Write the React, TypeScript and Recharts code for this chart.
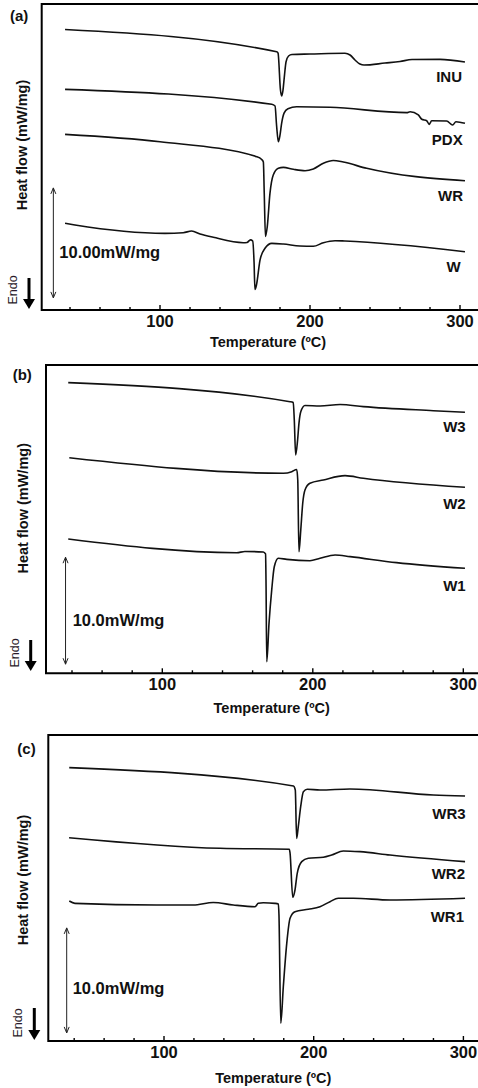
import { LineChart, Line, XAxis, YAxis, ReferenceArea, ReferenceLine } from 'recharts';

// DSC traces, [temperature (°C), heat flow (mW/mg, stacked offset)]
const INU = [[36.7, 25.5], [177.8, 23.48], [178.7, 23.36], [180.3, 20.0], [181.1, 19.45], [182, 20.0], [183, 21.36], [184, 22.55], [185.7, 23.09], [188, 23.23], [200, 23.27], [223.3, 23.34], [226.7, 23.18], [230, 22.73], [233.3, 22.36], [236, 22.27], [250, 22.45], [260, 22.59], [268, 22.77], [286.7, 22.79], [303.3, 22.55]];
const PDX = [[36.7, 20.06], [174.5, 18.7], [176.7, 18.55], [177.7, 16.8], [178.9, 15.3], [180, 15.9], [181, 16.9], [182.7, 17.9], [185.3, 18.3], [191.1, 18.48], [213.3, 18.43], [264.5, 17.94], [266.7, 18.03], [272.2, 17.73], [274.5, 17.34], [277.8, 17.21], [279.5, 16.88], [281.1, 17.21], [291.1, 17.18], [295.1, 16.82], [297.3, 17.12], [303.3, 16.97]];
const WR = [[36.7, 15.97], [100, 15.3], [164.5, 13.94], [167.8, 13.68], [168.9, 13.45], [169.5, 10.6], [170.3, 6.68], [171.5, 7.57], [173.3, 10.6], [175.5, 12.27], [178.9, 12.88], [182.2, 12.97], [188.9, 12.79], [196.7, 12.66], [202.2, 12.82], [208.9, 13.34], [215.5, 13.59], [222.2, 13.45], [237.8, 12.88], [303.3, 11.75]];
const W = [[36.7, 7.88], [43.3, 7.73], [103.3, 6.97], [115.5, 7.03], [121.1, 7.18], [126.7, 6.91], [135.5, 6.61], [155.5, 6.12], [158, 6.14], [160.3, 6.38], [161.8, 6.27], [162.7, 4.36], [163.3, 1.86], [164.3, 2.27], [166.7, 4.55], [170, 5.61], [174.5, 6.06], [182.2, 6.0], [193.3, 5.82], [202.2, 5.79], [208.9, 6.12], [216.7, 6.3], [223.3, 6.27], [303.3, 5.3]];

const W3 = [[37.5, 27.16], [184.9, 25.38], [187, 25.3], [187.7, 23.67], [188.6, 20.4], [189.9, 21.8], [190.8, 23.36], [192, 24.45], [194.8, 25.03], [204.8, 24.98], [218.1, 25.12], [233.6, 24.92], [280.1, 24.54], [301.1, 24.39]];
const W2 = [[38.2, 20.15], [180.4, 18.69], [186, 18.84], [189.3, 19.05], [190, 18.07], [190.8, 11.36], [192, 13.39], [193.3, 15.89], [194.8, 17.13], [198.1, 17.76], [207, 18.07], [221.4, 18.47], [233.6, 18.22], [301.1, 17.38]];
const W1 = [[37.5, 12.55], [149.4, 11.27], [154.9, 11.38], [167.1, 11.34], [168.6, 11.15], [168.9, 8.72], [169.4, 1.08], [170.9, 4.67], [172.7, 7.79], [174.4, 9.96], [177.1, 10.75], [182.7, 10.65], [198.1, 10.52], [204.8, 10.75], [214.8, 11.06], [224.8, 10.9], [255.7, 10.34], [301.1, 9.81]];

const WR3 = [[36.7, 26.03], [186.5, 24.29], [187.7, 23.9], [188.6, 19.3], [189.7, 20.41], [191.3, 22.31], [193.1, 23.74], [195.7, 23.97], [204.2, 23.9], [224.2, 24.0], [279.9, 23.43], [301.1, 23.33]];
const WR2 = [[36.6, 19.36], [137.4, 18.35], [183.7, 18.26], [184.2, 17.9], [186, 13.69], [187.5, 14.38], [189, 15.97], [192, 17.08], [196.4, 17.4], [206.4, 17.5], [212, 17.71], [219.8, 18.1], [230.9, 18.03], [251, 17.71], [301.1, 17.08]];
const WR1 = [[36.7, 13.33], [40.5, 13.11], [95.1, 12.95], [119.6, 12.95], [132.9, 13.19], [146.3, 12.95], [160.8, 12.79], [163, 13.11], [166.3, 13.17], [174.1, 13.11], [176.4, 13.05], [176.8, 12.0], [178, 1.69], [179.7, 5.17], [182, 9.3], [184.2, 11.69], [187.5, 12.31], [196.4, 12.54], [204.2, 12.79], [210.9, 13.27], [216.4, 13.59], [226.5, 13.59], [251, 13.43], [301.1, 13.59]];

const xTicks = [40, 60, 80, 100, 120, 140, 160, 180, 200, 220, 240, 260, 280, 300];
const scaleBars = [
  { t: 28.9, from: 1.1, to: 11.1, label: '10.00mW/mg' },
  { t: 35.7, from: 0.85, to: 10.85, label: '10.0mW/mg' },
  { t: 35, from: 0.77, to: 10.77, label: '10.0mW/mg' },
];

const FONT = '"Liberation Sans", Arial, Helvetica, sans-serif';
const toPts = (arr: number[][]) => arr.map(([t, v]) => ({ t, v }));

const panels = [
  {
    tag: '(a)', top: 4, height: 306, left: 41.7, tMin: 21.13, tMax: 316, k: 1.5, yMax: 27.82,
    series: [INU, PDX, WR, W], bar: scaleBars[0],
  },
  {
    tag: '(b)', top: 365, height: 308.3, left: 46, tMin: 22.72, tMax: 316, k: 1.505, yMax: 28.81,
    series: [W3, W2, W1], bar: scaleBars[1],
  },
  {
    tag: '(c)', top: 735, height: 306, left: 48.3, tMin: 22.71, tMax: 316, k: 1.497, yMax: 29.14,
    series: [WR3, WR2, WR1], bar: scaleBars[2],
  },
];

const CHART_W = 500;

const Tick = (props: any) => {
  const { x, y, payload } = props;
  const major = payload.value % 100 === 0;
  return (
    <g>
      <line x1={x} x2={x} y1={y} y2={y - (major ? 5 : 3)} stroke="#000" strokeWidth={1.4} />
      {major && (
        <text x={x} y={y + 17} textAnchor="middle" fontFamily={FONT} fontWeight="bold" fontSize={16.5} fill="#111">
          {payload.value}
        </text>
      )}
    </g>
  );
};

const ScaleBar = (p: any) => {
  const { x1, y1, y2 } = p;
  const top = Math.min(y1, y2);
  const bot = Math.max(y1, y2);
  return (
    <g stroke="#222" strokeWidth={1} fill="none">
      <line x1={x1} y1={top} x2={x1} y2={bot} />
      <polyline points={`${x1 - 2.5},${top + 6} ${x1},${top} ${x1 + 2.5},${top + 6}`} />
      <polyline points={`${x1 - 2.5},${bot - 6} ${x1},${bot} ${x1 + 2.5},${bot - 6}`} />
    </g>
  );
};

// text placed on the page (pixel layout)
const curveLabels = [
  { text: 'INU', x: 462, y: 76.7 }, { text: 'PDX', x: 462.7, y: 139.3 },
  { text: 'WR', x: 463, y: 195 }, { text: 'W', x: 460.7, y: 266.7 },
  { text: 'W3', x: 465.7, y: 426.7 }, { text: 'W2', x: 465.7, y: 503.3 }, { text: 'W1', x: 465.7, y: 585 },
  { text: 'WR3', x: 465.7, y: 813.3 }, { text: 'WR2', x: 465, y: 873.3 }, { text: 'WR1', x: 464, y: 916.7 },
];
const panelText = [
  { tagX: 10, tagY: 15, hfX: 22, hfY: 145, endoX: 13.3, endoY: 290, arrowX: 29, arrowTop: 278, arrowBot: 309, barX: 59.3, barY: 252, tX: 268, tY: 341.7 },
  { tagX: 12.7, tagY: 374, hfX: 23.3, hfY: 508.3, endoX: 15, endoY: 653, arrowX: 30.7, arrowTop: 640, arrowBot: 671, barX: 72.7, barY: 620, tX: 271.7, tY: 708.3 },
  { tagX: 17.3, tagY: 748, hfX: 23, hfY: 880, endoX: 18.3, endoY: 1023, arrowX: 34.3, arrowTop: 1008, arrowBot: 1040, barX: 72.7, barY: 988.3, tX: 273.3, tY: 1077.7 },
];

export default function App() {
  return (
    <div style={{ position: 'fixed', left: 0, top: 0, width: 478, height: 1088, overflow: 'hidden', background: '#fff' }}>
      {panels.map((p, i) => {
        const right = p.left + (p.tMax - p.tMin) * p.k;
        return (
          <div key={i} style={{ position: 'absolute', left: 0, top: p.top - 10 }}>
            <LineChart
              width={CHART_W}
              height={p.height + 50}
              margin={{ top: 10, right: CHART_W - right, bottom: 0, left: p.left }}
            >
              <XAxis
                type="number"
                dataKey="t"
                domain={[p.tMin, p.tMax]}
                allowDataOverflow
                ticks={xTicks}
                interval={0}
                tick={<Tick />}
                tickSize={0}
                tickMargin={0}
                tickLine={false}
                axisLine={false}
                height={40}
              />
              <YAxis type="number" dataKey="v" domain={[0, p.yMax]} allowDataOverflow hide />
              <ReferenceArea x1={p.tMin} x2={p.tMax} y1={0} y2={p.yMax} fill="none" fillOpacity={0} stroke="#000" strokeWidth={2} />
              <ReferenceLine
                segment={[{ x: p.bar.t, y: p.bar.from }, { x: p.bar.t, y: p.bar.to }]}
                shape={<ScaleBar />}
              />
              {p.series.map((s, j) => (
                <Line
                  key={j}
                  data={toPts(s)}
                  dataKey="v"
                  type="monotone"
                  stroke="#111"
                  strokeWidth={1.6}
                  dot={false}
                  isAnimationActive={false}
                />
              ))}
            </LineChart>
          </div>
        );
      })}
      <svg width={478} height={1088} style={{ position: 'absolute', left: 0, top: 0, pointerEvents: 'none' }}>
        <g fontFamily={FONT} fill="#111">
          {panelText.map((t, i) => (
            <g key={i}>
              <text x={t.tagX} y={t.tagY} dominantBaseline="central" fontWeight="bold" fontSize={15}>{panels[i].tag}</text>
              <text x={t.hfX} y={t.hfY} dominantBaseline="central" textAnchor="middle" fontWeight="bold" fontSize={14.5}
                transform={`rotate(-90 ${t.hfX} ${t.hfY})`}>Heat flow (mW/mg)</text>
              <text x={t.endoX} y={t.endoY} dominantBaseline="central" textAnchor="middle" fontSize={12.5} fill="#2a1a2a"
                transform={`rotate(-90 ${t.endoX} ${t.endoY})`}>Endo</text>
              <line x1={t.arrowX} x2={t.arrowX} y1={t.arrowTop} y2={t.arrowBot - 8} stroke="#000" strokeWidth={3} />
              <polygon points={`${t.arrowX - 6},${t.arrowBot - 10} ${t.arrowX + 6},${t.arrowBot - 10} ${t.arrowX},${t.arrowBot}`} fill="#000" />
              <text x={t.barX} y={t.barY} dominantBaseline="central" fontWeight="bold" fontSize={16.5}>{panels[i].bar.label}</text>
              <text x={t.tX} y={t.tY} dominantBaseline="central" textAnchor="middle" fontWeight="bold" fontSize={14.5}>Temperature (ºC)</text>
            </g>
          ))}
          {curveLabels.map((c) => (
            <text key={c.text} x={c.x} y={c.y} dominantBaseline="central" textAnchor="end" fontWeight="bold" fontSize={15}>{c.text}</text>
          ))}
        </g>
      </svg>
    </div>
  );
}
